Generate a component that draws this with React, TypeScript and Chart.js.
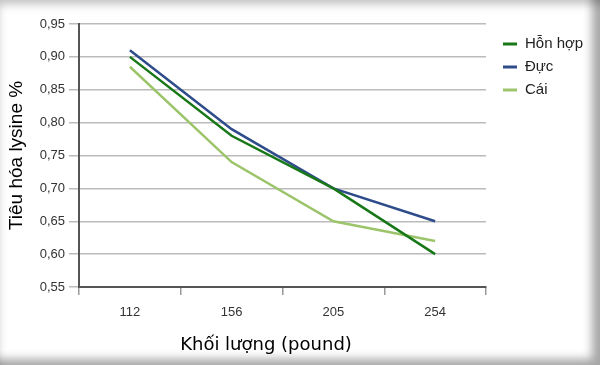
import React, { useEffect, useRef } from "react";
import { Chart, registerables } from "chart.js";

Chart.register(...registerables);

const categories = ["112", "156", "205", "254"];
const seriesNames = ["Hỗn hợp", "Đực", "Cái"];
const mixValues = [0.9, 0.78, 0.7, 0.6];
const maleValues = [0.91, 0.79, 0.7, 0.65];
const femaleValues = [0.885, 0.74, 0.65, 0.62];
const yTitle = "Tiêu hóa lysine %";
const xTitle = "Khối lượng (pound)";
const colors = ["#187818", "#2f4c8a", "#9cc46a"];

export default function App() {
  const ref = useRef<HTMLCanvasElement | null>(null);

  useEffect(() => {
    document.body.style.margin = "0";
    if (!ref.current) return;
    const overlay = {
      id: "overlay",
      afterDraw(chart: any) {
        const ctx = chart.ctx;
        const ca = chart.chartArea;
        ctx.save();
        // legend
        chart.data.datasets.forEach((ds: any, i: number) => {
          const y = 44 + i * 23;
          ctx.strokeStyle = ds.borderColor;
          ctx.lineWidth = 3;
          ctx.beginPath();
          ctx.moveTo(503, y);
          ctx.lineTo(517, y);
          ctx.stroke();
          ctx.fillStyle = "#222";
          ctx.font = "15px 'Liberation Sans', Arial, sans-serif";
          ctx.textBaseline = "middle";
          ctx.textAlign = "left";
          ctx.fillText(ds.label, 525, y);
        });
        // x title
        ctx.fillStyle = "#000";
        ctx.font = "18px 'DejaVu Sans', sans-serif";
        ctx.textAlign = "center";
        ctx.textBaseline = "alphabetic";
        ctx.fillText(xTitle, 266, 350);
        // y title
        ctx.translate(22, (ca.top + ca.bottom) / 2);
        ctx.rotate(-Math.PI / 2);
        ctx.font = "19px 'Liberation Sans', Arial, sans-serif";
        ctx.textAlign = "center";
        ctx.textBaseline = "alphabetic";
        ctx.fillText(yTitle, 0, 0);
        ctx.restore();
      },
    };
    const values = [mixValues, maleValues, femaleValues];
    const chart = new Chart(ref.current, {
      type: "line",
      data: {
        labels: categories,
        datasets: seriesNames.map((name, i) => ({
          label: name,
          data: values[i],
          borderColor: colors[i],
          backgroundColor: colors[i],
          borderWidth: 2.5,
          pointRadius: 0,
          tension: 0,
        })),
      },
      options: {
        animation: false,
        responsive: false,
        layout: { padding: { left: 0, right: 114, top: 24, bottom: 0 } },
        plugins: { legend: { display: false }, tooltip: { enabled: false } },
        scales: {
          x: {
            offset: true,
            afterFit: (s: any) => {
              s.height = 78;
            },
            grid: {
              offset: true,
              drawOnChartArea: false,
              drawTicks: true,
              tickLength: 8,
              color: "#999",
              lineWidth: 1.5,
            },
            border: { color: "#555", width: 2 },
            ticks: {
              padding: 10,
              color: "#333",
              font: { family: "'Liberation Sans', Arial, sans-serif", size: 13 },
            },
          },
          y: {
            min: 0.55,
            max: 0.95,
            afterFit: (s: any) => {
              s.width = 79;
            },
            grid: { color: "#bbb", lineWidth: 1.5, tickLength: 10 },
            border: { color: "#555", width: 2 },
            ticks: {
              stepSize: 0.05,
              padding: 4,
              color: "#333",
              font: { family: "'Liberation Sans', Arial, sans-serif", size: 13 },
              callback: (v: any) => Number(v).toFixed(2).replace(".", ","),
            },
          },
        },
      },
      plugins: [overlay],
    });
    return () => chart.destroy();
  }, []);

  return (
    <div
      style={{
        width: 600,
        height: 365,
        position: "relative",
        background: "#fff",
        overflow: "hidden",
      }}
    >
      <canvas ref={ref} width={600} height={365} style={{ display: "block" }} />
      <div
        style={{
          position: "absolute",
          inset: 0,
          pointerEvents: "none",
          boxShadow:
            "inset -12px -10px 10px -4px rgba(0,0,0,0.35), inset 4px 10px 10px -6px rgba(0,0,0,0.25)",
        }}
      />
    </div>
  );
}
